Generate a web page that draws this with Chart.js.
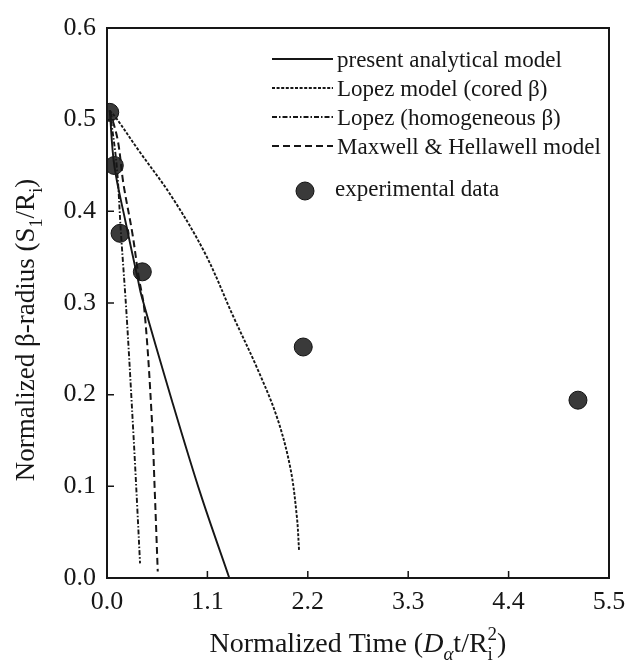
<!DOCTYPE html>
<html>
<head>
<meta charset="utf-8">
<script src="https://cdn.jsdelivr.net/npm/chart.js@4.4.1/dist/chart.umd.min.js"></script>
<style>
  html, body { margin: 0; background: #fff; }
  #wrap { width: 627px; height: 661px; }
</style>
</head>
<body>
<div id="wrap"><canvas id="chart"></canvas></div>
<script>
// values
const presentX = [0.03, 0.08, 0.2, 0.34, 0.38, 0.71, 1.024, 1.34];
const presentY = [0.51, 0.45, 0.39, 0.325, 0.307, 0.194, 0.092, 0.0];

const coredX = [0.03, 0.106, 0.343, 0.709, 1.075, 1.385, 1.64, 1.86, 2.007, 2.08, 2.105];
const coredY = [0.51, 0.501, 0.467, 0.416, 0.354, 0.285, 0.23, 0.176, 0.121, 0.067, 0.029];

const homogX = [0.03, 0.106, 0.153, 0.216, 0.289, 0.33, 0.362];
const homogY = [0.51, 0.45, 0.376, 0.285, 0.158, 0.08, 0.016];

const maxwellX = [0.03, 0.117, 0.18, 0.278, 0.345, 0.41, 0.49, 0.525, 0.556];
const maxwellY = [0.51, 0.478, 0.43, 0.376, 0.33, 0.292, 0.176, 0.09, 0.007];

const expX = [0.03, 0.08, 0.143, 0.387, 2.15, 5.16];
const expY = [0.508, 0.45, 0.376, 0.334, 0.252, 0.194];

const xTicks = [0, 1.1, 2.2, 3.3, 4.4, 5.5];
const xTickLabels = ["0.0", "1.1", "2.2", "3.3", "4.4", "5.5"];
const yTicks = [0, 0.1, 0.2, 0.3, 0.4, 0.5, 0.6];

const legendLabels = [
  "present analytical model",
  "Lopez model (cored \u03b2)",
  "Lopez (homogeneous \u03b2)",
  "Maxwell & Hellawell model",
  "experimental data",
];

const serif = "'Liberation Serif', 'Times New Roman', serif";
const ink = "#161616";

const xTitle = [
  { t: "Normalized Time (" },
  { t: "D", it: true },
  { t: "\u03b1", it: true, sub: true },
  { t: "t/R" },
  { t: "i", sub: true, stack: true },
  { t: "2", sup: true },
  { t: ")" },
];
const yTitle = [
  { t: "Normalized \u03b2-radius (S" },
  { t: "1", sub: true },
  { t: "/R" },
  { t: "i", sub: true },
  { t: ")" },
];

function pts(xs, ys) {
  return xs.map((x, i) => ({ x, y: ys[i] }));
}

function curve(label, xs, ys, dash, width) {
  return {
    label,
    data: pts(xs, ys),
    showLine: true,
    borderColor: ink,
    borderWidth: width,
    borderDash: dash,
    pointRadius: 0,
    tension: 0.35,
    fill: false,
  };
}

function drawRich(ctx, parts, cx, baseY, size) {
  const items = [];
  let total = 0;
  parts.forEach((p) => {
    const s = p.sub || p.sup ? size * 0.68 : size;
    const font = `${p.it ? "italic " : ""}${s}px ${serif}`;
    ctx.font = font;
    const w = ctx.measureText(p.t).width;
    items.push({ p, font, x: total });
    if (!p.stack) total += w;
  });
  const x0 = cx - total / 2;
  ctx.textAlign = "left";
  ctx.textBaseline = "alphabetic";
  items.forEach(({ p, font, x }) => {
    ctx.font = font;
    const dy = p.sub ? size * 0.28 : p.sup ? -size * 0.42 : 0;
    ctx.fillText(p.t, x0 + x, baseY + dy);
  });
}

const decor = {
  id: "decor",
  afterDraw(chart) {
    const { ctx, chartArea: a, scales } = chart;
    ctx.save();
    ctx.strokeStyle = ink;
    ctx.fillStyle = ink;

    // frame
    ctx.lineWidth = 2;
    ctx.strokeRect(a.left, a.top, a.right - a.left, a.bottom - a.top);

    // inward ticks
    ctx.lineWidth = 1.5;
    ctx.beginPath();
    yTicks.slice(1, -1).forEach((v) => {
      const y = scales.y.getPixelForValue(v);
      ctx.moveTo(a.left, y);
      ctx.lineTo(a.left + 7, y);
    });
    xTicks.slice(1, -1).forEach((v) => {
      const x = scales.x.getPixelForValue(v);
      ctx.moveTo(x, a.bottom);
      ctx.lineTo(x, a.bottom - 7);
    });
    ctx.stroke();

    // axis titles
    drawRich(ctx, xTitle, (a.left + a.right) / 2, 652, 28);
    ctx.save();
    ctx.translate(34, 330);
    ctx.rotate(-Math.PI / 2);
    drawRich(ctx, yTitle, 0, 0, 27);
    ctx.restore();

    // legend
    const rows = [59, 88, 117, 146];
    ctx.font = `23px ${serif}`;
    ctx.textBaseline = "middle";
    ctx.textAlign = "left";
    rows.forEach((y, i) => {
      const ds = chart.data.datasets[i];
      ctx.save();
      ctx.lineWidth = ds.borderWidth;
      ctx.setLineDash(ds.borderDash || []);
      ctx.beginPath();
      ctx.moveTo(272, y);
      ctx.lineTo(333, y);
      ctx.stroke();
      ctx.restore();
      ctx.fillText(ds.label, 337, y + 2);
    });
    const exp = chart.data.datasets[4];
    ctx.beginPath();
    ctx.arc(305, 191, exp.pointRadius, 0, Math.PI * 2);
    ctx.fillStyle = exp.backgroundColor;
    ctx.fill();
    ctx.lineWidth = 1;
    ctx.strokeStyle = exp.borderColor;
    ctx.stroke();
    ctx.fillStyle = ink;
    ctx.fillText(exp.label, 335, 190);

    ctx.restore();
  },
};

new Chart(document.getElementById("chart"), {
  type: "scatter",
  data: {
    datasets: [
      curve(legendLabels[0], presentX, presentY, [], 1.9),
      curve(legendLabels[1], coredX, coredY, [3, 1.6], 1.9),
      curve(legendLabels[2], homogX, homogY, [5, 2, 1.5, 2], 1.9),
      curve(legendLabels[3], maxwellX, maxwellY, [7, 4], 2),
      {
        label: legendLabels[4],
        data: pts(expX, expY),
        pointRadius: 9,
        backgroundColor: "#3a3a3a",
        borderColor: "#111",
        borderWidth: 1,
      },
    ],
  },
  options: {
    responsive: true,
    maintainAspectRatio: false,
    animation: false,
    layout: { padding: { top: 28, right: 18, left: 0, bottom: 0 } },
    plugins: { legend: { display: false }, tooltip: { enabled: false } },
    scales: {
      x: {
        type: "linear",
        min: 0,
        max: 5.5,
        afterBuildTicks: (s) => {
          s.ticks = xTicks.map((v) => ({ value: v }));
        },
        afterFit: (s) => {
          s.height = 83;
        },
        ticks: {
          callback: (v, i) => xTickLabels[i],
          font: { family: serif, size: 26 },
          color: ink,
          padding: 1,
          maxRotation: 0,
          autoSkip: false,
        },
        grid: { display: false },
        border: { display: false },
      },
      y: {
        min: 0,
        max: 0.6,
        afterBuildTicks: (s) => {
          s.ticks = yTicks.map((v) => ({ value: v }));
        },
        afterFit: (s) => {
          s.width = 107;
        },
        ticks: {
          callback: (v) => v.toFixed(1),
          font: { family: serif, size: 26 },
          color: ink,
          padding: 3,
        },
        grid: { display: false },
        border: { display: false },
      },
    },
  },
  plugins: [decor],
});
</script>
</body>
</html>
